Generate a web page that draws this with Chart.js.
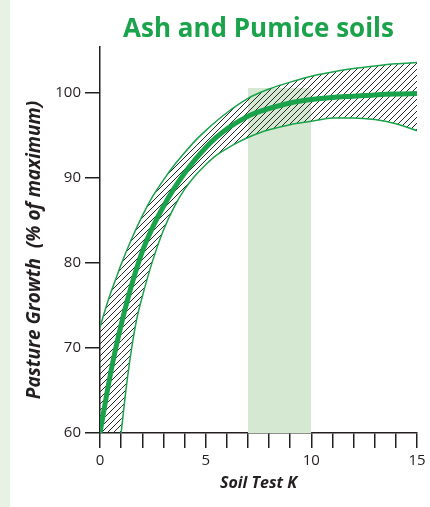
<!DOCTYPE html>
<html>
<head>
<meta charset="utf-8">
<script src="https://cdn.jsdelivr.net/npm/chart.js@4.4.1/dist/chart.umd.min.js"></script>
<style>
  html, body { margin: 0; padding: 0; background: #fff; }
  #wrap {
    position: relative; width: 430px; height: 507px;
    background: linear-gradient(to right, #e8f2e4 0, #e8f2e4 10px, #fff 10px);
  }
</style>
</head>
<body>
<div id="wrap"><canvas id="myChart" width="430" height="507"></canvas></div>
<script>
// chart texts
var chartTitle = 'Ash and Pumice soils';
var xTitle = 'Soil Test K';
var yTitle = 'Pasture Growth  (% of maximum)';

// soil test K values (x) for the response curve and upper limit
var soilK = [0, 0.25, 0.5, 0.75, 1, 1.5, 2, 2.5, 3, 3.5, 4, 4.5, 5, 5.5, 6, 6.5, 7, 7.5, 8, 9, 10, 11, 12, 13, 14, 15];
// mean response curve (% of max)
var growthMid = [60, 63.6, 67.0, 70.0, 72.7, 77.4, 81.3, 84.2, 86.6, 88.7, 90.5, 92.1, 93.5, 94.7, 95.7, 96.5, 97.2, 97.7, 98.1, 98.75, 99.15, 99.4, 99.55, 99.7, 99.8, 99.85];
// upper edge of the band
var growthHigh = [72.4, 74.5, 76.4, 78.1, 79.8, 82.8, 85.5, 87.8, 89.7, 91.4, 92.9, 94.3, 95.5, 96.6, 97.6, 98.5, 99.3, 99.9, 100.4, 101.2, 101.9, 102.4, 102.8, 103.1, 103.35, 103.5];
// lower edge of the band (starts where it leaves the x axis)
var lowK = [1, 1.25, 1.5, 1.75, 2, 2.5, 3, 3.5, 4, 4.5, 5, 5.5, 6, 6.5, 7, 7.5, 8, 9, 10, 11, 12, 13, 14, 15];
var growthLow = [60, 65.5, 70.0, 73.5, 76.0, 80.3, 83.8, 86.5, 88.6, 90.2, 91.5, 92.6, 93.4, 94.1, 94.7, 95.2, 95.6, 96.2, 96.6, 97.0, 97.0, 96.8, 96.3, 95.5];

// optimum range
var optimumK = [7, 10];
var optimumTop = 100.5;

// axes
var xLabels = [0, 5, 10, 15];
var yTicks = [60, 70, 80, 90, 100];

var green = '#1ba34b';
var axisColor = '#231f20';
var fontFam = '"Open Sans", "Noto Sans", sans-serif';

function toPoints(xs, ys) {
    return xs.map(function (x, i) { return { x: x, y: ys[i] }; });
}

var canvas = document.getElementById('myChart');
var ctx = canvas.getContext('2d');

// hatch pattern for the band
function makeHatch() {
    var c = document.createElement('canvas');
    c.width = 6; c.height = 6;
    var g = c.getContext('2d');
    g.strokeStyle = '#2a2a2a';
    g.lineWidth = 1;
    g.beginPath();
    g.moveTo(0, 6); g.lineTo(6, 0);
    g.moveTo(-1, 1); g.lineTo(1, -1);
    g.moveTo(5, 7); g.lineTo(7, 5);
    g.stroke();
    return ctx.createPattern(c, 'repeat');
}
var hatch = makeHatch();

// part of the upper edge left of where the lower edge starts
var nearAxis = toPoints(soilK, growthHigh).filter(function (p) { return p.x <= lowK[0]; });

// y axis title drawn by hand so it sits where the original has it
var yTitlePlugin = {
    id: 'yTitle',
    afterDraw: function (chart) {
        var c = chart.ctx;
        c.save();
        c.translate(35, 250);
        c.rotate(-Math.PI / 2);
        c.font = 'italic bold 19px ' + fontFam;
        c.fillStyle = axisColor;
        c.textAlign = 'center';
        c.textBaseline = 'middle';
        c.fillText(yTitle, 0, 0);
        c.restore();
    }
};

var myChart = new Chart(ctx, {
    type: 'line',
    data: {
        datasets: [{
            label: 'optimum',
            data: toPoints(optimumK, [optimumTop, optimumTop]),
            borderWidth: 0,
            pointRadius: 0,
            backgroundColor: '#d5e8d1',
            fill: 'start',
            order: 10
        }, {
            label: 'upper',
            data: toPoints(soilK, growthHigh),
            borderColor: green,
            borderWidth: 1.5,
            pointRadius: 0,
            cubicInterpolationMode: 'monotone',
            backgroundColor: hatch,
            fill: 2,
            order: 5
        }, {
            label: 'lower',
            data: toPoints(lowK, growthLow),
            borderColor: green,
            borderWidth: 1.5,
            pointRadius: 0,
            cubicInterpolationMode: 'monotone',
            fill: false,
            order: 4
        }, {
            label: 'near axis',
            data: nearAxis,
            borderWidth: 0,
            pointRadius: 0,
            cubicInterpolationMode: 'monotone',
            backgroundColor: hatch,
            fill: 'start',
            order: 6
        }, {
            label: 'mean',
            data: toPoints(soilK, growthMid),
            borderColor: green,
            borderWidth: 5,
            pointRadius: 0,
            cubicInterpolationMode: 'monotone',
            fill: false,
            order: 1
        }]
    },
    options: {
        responsive: false,
        animation: false,
        layout: { padding: { left: 0, right: 13, top: 0, bottom: 0 } },
        plugins: {
            legend: { display: false },
            tooltip: { enabled: false },
            title: {
                display: true,
                text: chartTitle,
                color: green,
                fullSize: false,
                font: { family: fontFam, size: 26, weight: 'bold' },
                padding: { top: 14, bottom: 2 }
            }
        },
        scales: {
            x: {
                type: 'linear',
                min: 0,
                max: 15,
                afterFit: function (s) { s.height = 74; },
                border: { color: axisColor, width: 1.5 },
                grid: { drawOnChartArea: false, drawTicks: true, tickLength: 15, color: axisColor, lineWidth: 1.5 },
                ticks: {
                    stepSize: 1,
                    autoSkip: false,
                    maxRotation: 0,
                    padding: 4,
                    color: axisColor,
                    font: { family: fontFam, size: 15 },
                    callback: function (v) { return xLabels.indexOf(v) >= 0 ? v : ''; }
                },
                title: {
                    display: true,
                    text: xTitle,
                    color: axisColor,
                    font: { family: fontFam, size: 16, weight: 'bold', style: 'italic' },
                    padding: { top: 0, bottom: 14 }
                }
            },
            y: {
                type: 'linear',
                min: 60,
                max: 105.3,
                afterBuildTicks: function (s) { s.ticks = yTicks.map(function (v) { return { value: v }; }); },
                afterFit: function (s) { s.width = 100; },
                border: { color: axisColor, width: 1.5 },
                grid: { drawOnChartArea: false, drawTicks: true, tickLength: 15, color: axisColor, lineWidth: 1.5 },
                ticks: {
                    padding: 4,
                    color: axisColor,
                    font: { family: fontFam, size: 15 }
                }
            }
        }
    },
    plugins: [yTitlePlugin]
});
</script>
</body>
</html>
